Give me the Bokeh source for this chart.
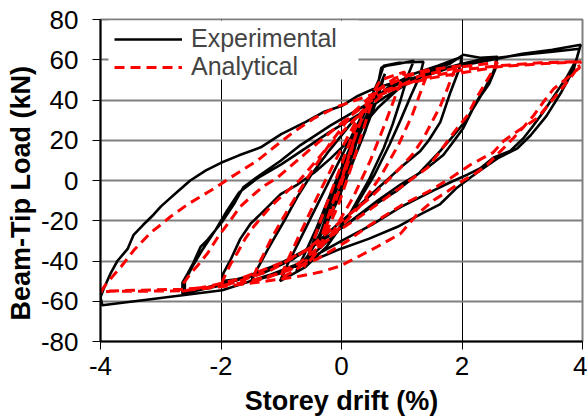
from bokeh.plotting import figure
from bokeh.models import Range1d, FixedTicker, Legend, LegendItem, Title, BoxAnnotation
from bokeh.embed import file_html
from bokeh.resources import INLINE

# ---------------- data ----------------
x_ticks = [-4, -2, 0, 2, 4]
x_tick_labels = ["-4", "-2", "0", "2", "4"]
y_ticks = [-80, -60, -40, -20, 0, 20, 40, 60, 80]
y_tick_labels = ["-80", "-60", "-40", "-20", "0", "20", "40", "60", "80"]

# Experimental hysteresis (storey drift %, beam-tip load kN)
exp_drift = [
    0, 0.1, 0.2, 0.3, 0.2, 0.05, -0.1, -0.25, -0.35, -0.22, -0.05, 0.12, 0.3,
    0.45, 0.52, 0.4, 0.2, 0.0, -0.2, -0.4, -0.55, -0.45, -0.25, -0.05, 0.15, 0.35, 0.5,
    0.65, 0.72, 0.6, 0.42, 0.2, -0.05, -0.3, -0.55, -0.75, -0.62, -0.42, -0.2, 0.05, 0.3, 0.5, 0.62,
    0.66, 0.75, 0.95, 1.2, 1.1, 0.98, 0.85, 0.7, 0.45, 0.15, -0.25, -0.6, -0.9, -1.02, -0.9, -0.7,
    -0.45, -0.2, 0.05, 0.3, 0.5, 0.62, 0.7, 0.95, 1.36,
    1.3, 1.15, 0.98, 0.8, 0.55, 0.25, -0.15, -0.6, -1.0, -1.3, -1.5, -1.4, -1.2, -0.95, -0.73,
    -0.5, -0.2, 0.15, 0.45, 0.8, 1.2, 1.6, 2.0,
    1.95, 1.81, 1.64, 1.45, 1.31, 0.98, 0.6, 0.2, -0.3, -0.8, -1.3, -1.7, -1.98, -1.96, -1.85,
    -1.68, -1.51, -1.34, -1.01, -0.73, -0.45, -0.18, 0.2, 0.6, 1.0, 1.4, 1.8, 2.02,
    2.3, 2.59, 2.55, 2.45, 2.31, 2.17, 2.02, 1.85, 1.69, 1.45, 1.26, 0.98, 0.6, 0.03, -0.7, -1.3,
    -1.98, -2.3, -2.64, -2.64, -2.55, -2.46, -2.34, -2.22, -1.98, -1.79, -1.63, -1.34, -1.01,
    -0.68, -0.18, 0.37, 0.6, 1.0, 1.5, 2.0, 2.3, 2.59,
    2.52, 2.4, 2.2, 2.09, 1.85, 1.64, 1.3, 0.93, 0.5, 0.03, -0.5, -1.0, -1.6, -2.1, -2.6,
    -2.6, -2.48, -2.3, -2.1, -1.9, -1.7, -1.4, -1.0, -0.6, -0.2, 0.3, 0.7, 1.2, 1.8, 2.5, 3.0,
    3.5, 3.97,
    3.9, 3.75, 3.55, 3.35, 3.15, 3.02, 2.8, 2.52, 2.3, 2.09, 1.8, 1.53, 0.98, 0.5, 0.0, -0.6,
    -1.2, -1.98, -2.64, -3.3, -3.97, -4.0, -3.95, -3.83, -3.72, -3.55, -3.45, -3.29, -3.12,
    -3.0, -2.89, -2.7, -2.51, -2.25, -2.0, -1.7, -1.34, -1.0, -0.6, -0.3, 0.0, 0.27, 0.53,
    0.9, 1.36, 1.64, 2.2, 2.6, 3.0, 3.5, 3.95,
    3.85, 3.65, 3.4, 3.14, 2.92, 2.59, 2.35, 2.14, 1.9, 1.64, 1.3, 0.93, 0.45, -0.02, -0.5, -1.0,
]
exp_load = [
    0, 9, 17, 24, 14, 2, -10, -20, -26, -15, -2, 10, 23,
    33, 37, 25, 10, -4, -17, -29, -37, -29, -14, 1, 14, 28, 38,
    48, 53, 41, 27, 10, -9, -25, -37, -45, -37, -24, -8, 10, 28, 42, 50,
    56, 57, 58, 59.5, 52, 40, 28, 16, 0, -16, -33, -43, -48, -50, -42, -30,
    -15, 0, 15, 30, 42, 50, 57, 58.5, 59,
    52, 42, 30, 18, 3, -12, -28, -40, -46, -48.5, -50, -44, -33, -20, -8,
    3, 15, 28, 38, 47, 53, 57, 61.5,
    55, 44, 29, 20, 14.7, 6.4, -4, -15, -28, -39, -46, -49, -50, -46, -40,
    -29, -21.5, -16.6, -6.8, -2, 4, 11, 22, 36, 47, 54, 58, 62.5,
    61, 61.5, 55, 48, 42, 35, 26, 19, 12.7, 7, 3, -2, -10, -23, -37, -45,
    -52, -54, -56.3, -50.8, -46, -41, -33, -29.4, -20.5, -12, -3.4, 3, 9.8,
    17.6, 27.4, 37, 42, 49, 54, 58, 60, 61,
    54, 47, 37, 30.8, 22, 14.7, 4, -4.9, -13, -23, -33, -41, -48, -52, -56,
    -50, -43, -34, -25, -15, -6, 1, 8, 16, 24, 33, 41, 50, 56, 60, 63,
    65, 67.5,
    60, 52, 43, 34, 26, 21, 14.7, 11.3, 6, 2.9, -1, -4.9, -13.2, -22, -30, -40,
    -47, -54.5, -57, -59.5, -62, -58, -54, -46, -40, -34, -27, -22, -17,
    -13, -10, -5, 0, 5, 8.8, 12.5, 16.5, 23, 29, 34, 37, 42, 45.5,
    49, 52, 55, 58.5, 61, 62.5, 64, 65.5,
    55, 44, 32, 22.5, 16, 11, 6, 1.5, -4, -11.7, -17, -23, -29, -34, -40, -45,
]

# Analytical hysteresis (storey drift %, beam-tip load kN)
ana_drift = [
    0, 0.12, 0.25, 0.12, -0.05, -0.2, -0.32, -0.18, 0.0, 0.15, 0.3,
    0.45, 0.55, 0.42, 0.2, -0.05, -0.3, -0.5, -0.62, -0.5, -0.3, -0.05, 0.2, 0.45, 0.65,
    0.85, 1.05, 0.92, 0.72, 0.48, 0.2, -0.15, -0.5, -0.85, -1.02, -0.9, -0.65, -0.4, -0.1,
    0.25, 0.55, 0.9, 1.3, 1.45,
    1.35, 1.18, 0.95, 0.65, 0.3, -0.2, -0.7, -1.2, -1.5, -1.38, -1.15, -0.88, -0.55, -0.2,
    0.2, 0.6, 1.1, 1.6, 2.0,
    1.86, 1.75, 1.64, 1.5, 1.36, 1.18, 0.98, 0.5, 0.0, -0.6, -1.2, -1.7, -2.0, -1.96, -1.85,
    -1.73, -1.6, -1.46, -1.18, -1.01, -0.7, -0.3, 0.2, 0.7, 1.3, 2.0, 2.59,
    2.48, 2.36, 2.22, 2.09, 1.92, 1.76, 1.6, 1.43, 1.2, 0.98, 0.4, -0.3, -1.0, -1.7, -2.2,
    -2.64, -2.62, -2.5, -2.38, -2.22, -2.05, -1.84, -1.68, -1.51, -1.3, -1.06, -0.5, 0.1,
    0.6, 1.3, 2.0, 2.6,
    3.3, 3.92, 3.95, 3.75, 3.52, 3.35, 3.19, 3.02, 2.85, 2.62, 2.42, 2.22, 2.02, 1.78, 1.53,
    1.25, 0.98, 0.6, 0.3, -0.02, -0.35, -0.68, -1.01, -1.5, -2.0, -2.64, -3.2, -3.83, -4.0,
    -3.92, -3.78, -3.65, -3.44, -3.17, -3.0, -2.84, -2.56, -2.34, -2.17, -1.84, -1.39, -1.1,
    -0.8, -0.45, -0.07, 0.53, 1.0, 1.5, 2.0, 2.6, 3.3, 3.97,
    3.9, 3.72, 3.5, 3.25, 2.92, 2.69, 2.52, 2.14, 1.8, 1.48, 1.03, 0.48, 0.1, -0.4, -1.0,
    -1.6, -2.2, -2.64, -3.3, -4.0,
]
ana_load = [
    0, 12, 24, 10, -6, -19, -27, -14, 1, 15, 28,
    38, 43, 31, 10, -12, -29, -39, -43, -33, -16, 4, 24, 40, 50,
    52, 54, 44, 28, 10, -8, -26, -39, -46, -48.5, -40, -24, -8, 10,
    30, 44, 51, 54, 55,
    47, 33, 18, 2, -13, -29, -41, -48, -50.5, -42, -28, -14, 2, 18,
    34, 45, 52, 55.5, 57,
    53.8, 45, 37, 29, 21, 13, 6.4, -8, -20, -35, -45, -50, -52.5, -49, -42,
    -36, -29, -23, -13, -8.3, 0, 14, 30, 43, 52, 56.5, 58.7,
    53, 47, 40, 32.3, 26, 19.6, 13, 6.4, 1.5, -3.4, -16, -30, -41, -49, -52.5,
    -55, -51, -46, -42, -36, -28, -19.6, -13, -8.3, -3, 1.5, 16, 31,
    42, 50.5, 55, 57,
    58.5, 59, 56, 51, 45.5, 39, 32.3, 26.5, 21, 14, 7.8, 3.5, 0, -5, -9.8,
    -17, -26.4, -32.8, -37.5, -42.5, -45.5, -47.5, -49, -51, -52.8, -54.8, -55, -55, -55.5,
    -52, -47, -42.5, -34.4, -26, -22, -18, -12, -8, -5, 1.5, 10, 17,
    24, 31, 36.7, 43, 47.5, 51, 53.5, 56.5, 58, 59,
    55, 48, 40, 31, 24.5, 19.6, 14, 7.8, 1, -4.9, -11.7, -22, -30, -39, -46,
    -50.5, -53, -54, -54.5, -55,
]

# ---------------- figure ----------------
FONT = "Liberation Sans"

p = figure(
    width=587, height=418, output_backend="svg", toolbar_location=None,
    x_range=Range1d(-4, 4), y_range=Range1d(-80, 80),
    min_border_left=100, min_border_right=5, min_border_top=19, min_border_bottom=72,
    background_fill_color="white", border_fill_color="white",
)

r_exp = p.line(exp_drift, exp_load, line_color="black", line_width=2.6)
r_ana = p.line(ana_drift, ana_load, line_color="red", line_width=3, line_dash="10 6")

p.outline_line_color = "#808080"
p.outline_line_width = 2

for ax in (p.xaxis[0], p.yaxis[0]):
    ax.axis_line_color = "black"
    ax.axis_line_width = 2
    ax.major_tick_line_color = "black"
    ax.major_tick_line_width = 1
    ax.major_tick_in = 0
    ax.major_tick_out = 8
    ax.minor_tick_line_color = None
    ax.major_label_text_font = FONT
    ax.major_label_text_font_size = "26px"
    ax.major_label_text_color = "black"
    ax.axis_label_text_font = FONT
    ax.axis_label_text_font_size = "27px"
    ax.axis_label_text_font_style = "bold"
    ax.axis_label_text_color = "black"

p.xaxis.ticker = FixedTicker(ticks=x_ticks)
p.yaxis.ticker = FixedTicker(ticks=y_ticks)
p.xaxis.major_label_overrides = dict(zip(x_ticks, x_tick_labels))
p.yaxis.major_label_overrides = dict(zip(y_ticks, y_tick_labels))
p.xaxis.axis_label = "Storey drift (%)"
p.xaxis.major_label_standoff = 7
p.yaxis.major_label_standoff = 14
p.xaxis.axis_label_standoff = 8

# y-axis title, starting a little above the frame bottom as in the reference
ytitle = Title(text="Beam-Tip Load (kN)", align="left", offset=21, standoff=4,
               text_font=FONT, text_font_size="27px", text_font_style="bold",
               text_color="black")
p.add_layout(ytitle, "left")

p.xgrid.ticker = FixedTicker(ticks=x_ticks)
p.ygrid.ticker = FixedTicker(ticks=y_ticks)
p.xgrid.grid_line_color = "black"
p.xgrid.grid_line_width = 1
p.ygrid.grid_line_color = "#808080"
p.ygrid.grid_line_width = 2

# white panel behind the legend (screen units, layout only)
legend_panel = BoxAnnotation(left=8, right=258, bottom=262, top=321,
                             left_units="screen", right_units="screen",
                             bottom_units="screen", top_units="screen",
                             fill_color="white", fill_alpha=1.0, line_color=None,
                             level="underlay")
p.add_layout(legend_panel)

legend_style = dict(
    padding=6, spacing=0, margin=0,
    glyph_width=68, glyph_height=16, label_height=16, label_standoff=9,
    label_text_font=FONT, label_text_font_size="25px",
    background_fill_alpha=0.0, border_line_color=None,
)
legend_exp = Legend(items=[LegendItem(label="Experimental", renderers=[r_exp])],
                    location=(14, 288), **legend_style)
legend_ana = Legend(items=[LegendItem(label="Analytical", renderers=[r_ana])],
                    location=(14, 260), **legend_style)
p.add_layout(legend_exp, "center")
p.add_layout(legend_ana, "center")

open("out.html", "w").write(file_html(p, INLINE))
